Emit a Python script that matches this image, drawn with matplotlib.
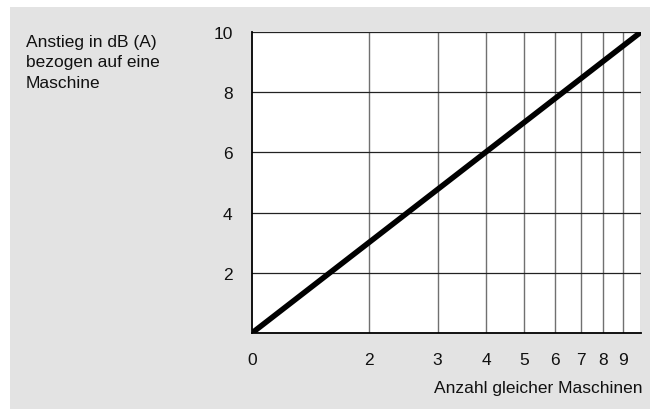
import matplotlib
matplotlib.use("Agg")
import matplotlib.pyplot as plt
from matplotlib.patches import Rectangle

plt.rcParams['font.family'] = ['Liberation Sans', 'DejaVu Sans']

# Data (straight line on the log axis)
machines = [1, 10]
increase_db = [0, 10]
x_ticks = [1, 2, 3, 4, 5, 6, 7, 8, 9]
x_tick_labels = ['0', '2', '3', '4', '5', '6', '7', '8', '9']
y_ticks = [2, 4, 6, 8, 10]
y_tick_labels = ['2', '4', '6', '8', '10']

FS = 12.5

fig = plt.figure(figsize=(6.56, 4.10), dpi=100)
fig.patch.set_facecolor('white')
bg = Rectangle((10/656, 0), 640/656, 402/410, transform=fig.transFigure,
               facecolor='#e3e3e3', edgecolor='none', zorder=-10)
fig.patches.append(bg)

ax = fig.add_axes([252/656, (410-334)/410, (641-252)/656, (334-33)/410])
ax.set_zorder(5)
ax.set_facecolor('white')
ax.set_xscale('log')
ax.set_xlim(1, 10)
ax.set_ylim(0, 10)

for x in x_ticks[1:] + [10]:
    ax.axvline(x, color='#707070', lw=1.0, zorder=1)
for y in y_ticks:
    ax.axhline(y, color='#222222', lw=0.9, zorder=1)

ax.plot(machines, increase_db, color='black', lw=4.0, solid_capstyle='butt', zorder=3)

ax.set_xticks(x_ticks)
ax.set_xticklabels(x_tick_labels)
ax.xaxis.set_minor_locator(matplotlib.ticker.NullLocator())
ax.set_yticks(y_ticks)
ax.set_yticklabels(y_tick_labels)
ax.tick_params(axis='both', length=0, labelsize=FS, colors='#111111')
ax.tick_params(axis='x', pad=14)
ax.tick_params(axis='y', pad=14)
ax.get_xticklabels()[0].set_x(1)

for s in ['top', 'right']:
    ax.spines[s].set_visible(False)
ax.spines['left'].set_linewidth(1.3)
ax.spines['bottom'].set_linewidth(1.3)

fig.text(26/656, 1 - 35/410, 'Anstieg in dB (A)\nbezogen auf eine\nMaschine',
         ha='left', va='top', fontsize=FS, linespacing=1.45, color='#111111')
fig.text(643/656, 1 - 389/410, 'Anzahl gleicher Maschinen',
         ha='right', va='center', fontsize=FS, color='#111111')

fig.savefig('out.png', dpi=100)
